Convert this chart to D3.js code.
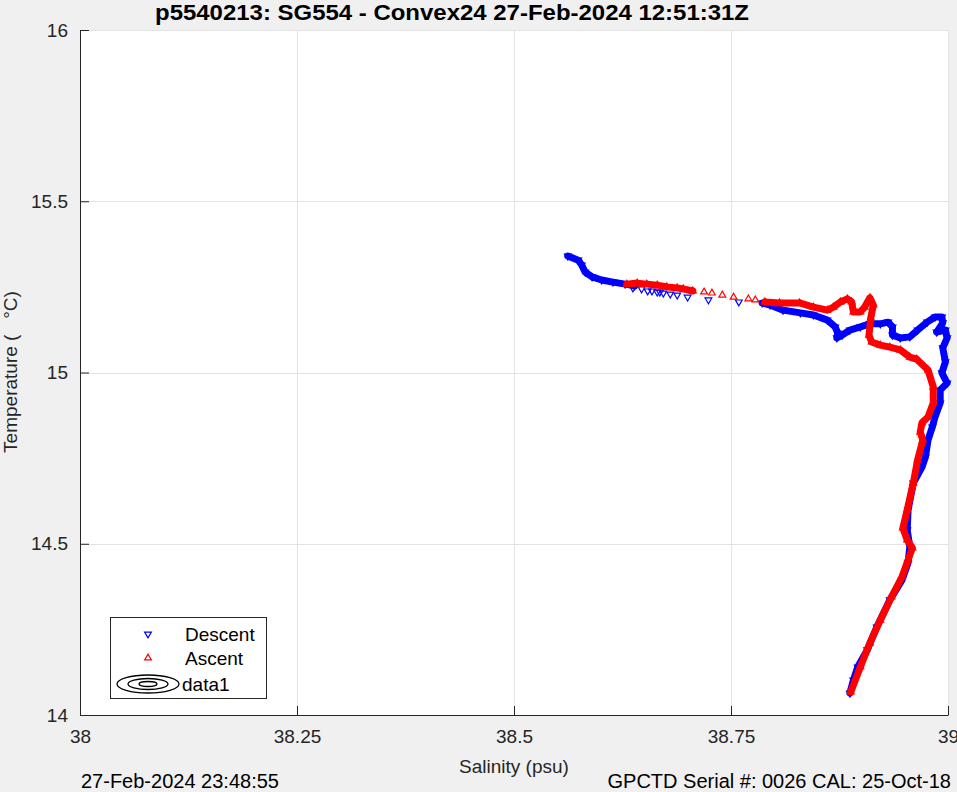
<!DOCTYPE html>
<html><head><meta charset="utf-8">
<script src="https://cdn.jsdelivr.net/npm/d3@7"></script>
<style>
body{margin:0;background:#f0f0f0}
svg{display:block}
text{font-family:"Liberation Sans",Arial,Helvetica,sans-serif}
</style>
</head><body><svg id="c" width="957" height="792"></svg>
<script>
// ---- data: [salinity (psu), temperature (°C)] ----
const descentDenseHead = [[38.562,15.340],[38.574,15.328],[38.578,15.314],[38.582,15.293],[38.590,15.279],[38.601,15.270],[38.614,15.264],[38.628,15.258],[38.639,15.253]];
const descentSparse = [[38.637,15.247],[38.647,15.244],[38.654,15.238],[38.659,15.238],[38.665,15.235],[38.668,15.235],[38.672,15.232],[38.680,15.229],[38.688,15.226],[38.700,15.220],[38.724,15.212],[38.759,15.206]];
const descentDenseTail = [[38.786,15.203],[38.795,15.197],[38.810,15.182],[38.830,15.174],[38.845,15.168],[38.861,15.153],[38.870,15.133],[38.873,15.115],[38.872,15.101],[38.878,15.109],[38.887,15.124],[38.899,15.133],[38.910,15.142],[38.922,15.142],[38.931,15.147],[38.936,15.133],[38.936,15.109],[38.945,15.101],[38.956,15.104],[38.965,15.124],[38.976,15.147],[38.985,15.162],[38.993,15.162],[38.994,15.145],[38.987,15.118],[38.997,15.124],[38.999,15.101],[38.994,15.072],[38.997,15.031],[38.993,14.999],[38.999,14.969],[38.991,14.949],[38.991,14.911],[38.985,14.870],[38.982,14.841],[38.977,14.803],[38.974,14.753],[38.970,14.724],[38.960,14.677],[38.954,14.599],[38.953,14.540],[38.956,14.491],[38.954,14.444],[38.947,14.394],[38.933,14.336],[38.918,14.257],[38.907,14.190],[38.896,14.140],[38.891,14.102],[38.887,14.064]];
const ascentDenseHead = [[38.888,14.067],[38.899,14.140],[38.910,14.210],[38.922,14.277],[38.935,14.345],[38.947,14.403],[38.954,14.453],[38.959,14.488],[38.953,14.511],[38.948,14.546],[38.953,14.599],[38.960,14.677],[38.965,14.745],[38.971,14.803],[38.968,14.826],[38.970,14.853],[38.977,14.870],[38.983,14.911],[38.983,14.958],[38.977,15.007],[38.964,15.039],[38.956,15.045],[38.945,15.066],[38.933,15.074],[38.922,15.080],[38.912,15.089],[38.909,15.109],[38.911,15.159],[38.914,15.197],[38.910,15.218],[38.904,15.191],[38.899,15.177],[38.891,15.177],[38.889,15.206],[38.884,15.215],[38.876,15.206],[38.868,15.191],[38.861,15.182],[38.845,15.191],[38.829,15.203],[38.806,15.203],[38.789,15.206]];
const ascentSparse = [[38.778,15.212],[38.770,15.215],[38.753,15.220],[38.740,15.226],[38.728,15.232],[38.719,15.235]];
const ascentDenseTail = [[38.706,15.238],[38.695,15.244],[38.688,15.247],[38.676,15.250],[38.665,15.255],[38.653,15.258],[38.642,15.261],[38.630,15.258]];

const xTicks = [38, 38.25, 38.5, 38.75, 39];
const xTickLabels = ["38", "38.25", "38.5", "38.75", "39"];
const yTicks = [14, 14.5, 15, 15.5, 16];
const yTickLabels = ["14", "14.5", "15", "15.5", "16"];
const legendLabels = ["Descent", "Ascent", "data1"];
const titleText = "p5540213: SG554 - Convex24 27-Feb-2024 12:51:31Z";
const xLabel = "Salinity (psu)";
const yLabel = "Temperature (   \u00B0C)";
const footLeft = "27-Feb-2024 23:48:55";
const footRight = "GPCTD Serial #: 0026 CAL: 25-Oct-18";

// ---- layout ----
const svg = d3.select("#c");
const L = 80, R = 948, T = 30, B = 715;
const x = d3.scaleLinear().domain([38, 39]).range([L, R]);
const y = d3.scaleLinear().domain([14, 16]).range([B, T]);
const axisColor = "#262626";

svg.append("rect").attr("width", 957).attr("height", 792).attr("fill", "#f0f0f0");
svg.append("rect").attr("x", L).attr("y", T).attr("width", R - L).attr("height", B - T).attr("fill", "#fff");

// grid
const grid = svg.append("g").attr("stroke", "#e3e3e3").attr("stroke-width", 1);
grid.selectAll("line.v").data(xTicks).join("line")
  .attr("x1", d => Math.round(x(d)) + 0.5).attr("x2", d => Math.round(x(d)) + 0.5)
  .attr("y1", T).attr("y2", B);
grid.selectAll("line.h").data(yTicks).join("line")
  .attr("x1", L).attr("x2", R)
  .attr("y1", d => Math.round(y(d)) + 0.5).attr("y2", d => Math.round(y(d)) + 0.5);

// data drawing
const line = d3.line().x(d => x(d[0])).y(d => y(d[1]));
const tri = d3.symbol().type(d3.symbolTriangle).size(20);
const plot = svg.append("g");

function drawDense(pts, color, down) {
  plot.append("path").datum(pts).attr("d", line)
    .attr("fill", "none").attr("stroke", color).attr("stroke-width", 7)
    .attr("stroke-linejoin", "round").attr("stroke-linecap", "round");
  drawMarkers(pts, color, down);
}
function drawMarkers(pts, color, down) {
  plot.append("g").selectAll("path").data(pts).join("path")
    .attr("d", tri)
    .attr("transform", d => `translate(${x(d[0])},${y(d[1])})` + (down ? " rotate(180)" : ""))
    .attr("fill", "none").attr("stroke", color).attr("stroke-width", 1.2);
}
const blue = "#0000ff", red = "#ff0000";
drawDense(descentDenseHead, blue, true);
drawMarkers(descentSparse, blue, true);
drawDense(descentDenseTail, blue, true);
drawDense(ascentDenseHead, red, false);
drawMarkers(ascentSparse, red, false);
drawDense(ascentDenseTail, red, false);

// axes
const fmtX = d => xTickLabels[xTicks.indexOf(d)];
const fmtY = d => yTickLabels[yTicks.indexOf(d)];
const gx = svg.append("g").attr("transform", `translate(0,${B})`)
  .call(d3.axisBottom(x).tickValues(xTicks).tickFormat(fmtX).tickSizeInner(-9).tickSizeOuter(0).tickPadding(15));
const gy = svg.append("g").attr("transform", `translate(${L},0)`)
  .call(d3.axisLeft(y).tickValues(yTicks).tickFormat(fmtY).tickSizeInner(-9).tickSizeOuter(0).tickPadding(12));
[gx, gy].forEach(g => {
  g.selectAll("path.domain").attr("stroke", axisColor);
  g.selectAll(".tick line").attr("stroke", axisColor);
  g.selectAll("text").attr("fill", axisColor).style("font-size", "19px")
    .style("font-family", '"Liberation Sans",Arial,sans-serif');
});

// title and labels
svg.append("text").attr("x", 452).attr("y", 20).attr("text-anchor", "middle")
  .attr("textLength", 594).attr("lengthAdjust", "spacingAndGlyphs")
  .style("font-size", "22px").style("font-weight", "bold").attr("fill", "#000").text(titleText);
svg.append("text").attr("x", 514).attr("y", 773).attr("text-anchor", "middle")
  .style("font-size", "19px").attr("fill", axisColor).text(xLabel);
svg.append("text").attr("transform", "translate(17,372) rotate(-90)").attr("text-anchor", "middle")
  .style("font-size", "19px").style("white-space", "pre").attr("fill", axisColor).text(yLabel);
svg.append("text").attr("x", 81).attr("y", 788)
  .style("font-size", "20px").attr("fill", "#000").text(footLeft);
svg.append("text").attr("x", 951).attr("y", 788).attr("text-anchor", "end")
  .style("font-size", "20px").attr("fill", "#000").text(footRight);

// legend
const lg = svg.append("g");
lg.append("rect").attr("x", 110.5).attr("y", 617.5).attr("width", 156).attr("height", 81)
  .attr("fill", "#fff").attr("stroke", axisColor).attr("stroke-width", 1);
const rowsY = [634, 658, 684];
lg.append("path").attr("d", tri).attr("transform", `translate(148,${rowsY[0]}) rotate(180)`)
  .attr("fill", "none").attr("stroke", blue).attr("stroke-width", 1.2);
lg.append("path").attr("d", tri).attr("transform", `translate(148,${rowsY[1]})`)
  .attr("fill", "none").attr("stroke", red).attr("stroke-width", 1.2);
[[31, 9], [20, 5.5], [9, 2.5]].forEach(([rx, ry]) => {
  lg.append("ellipse").attr("cx", 148).attr("cy", rowsY[2]).attr("rx", rx).attr("ry", ry)
    .attr("fill", "none").attr("stroke", "#000").attr("stroke-width", 1.3);
});
lg.selectAll("text.lab").data(legendLabels).join("text")
  .attr("x", (d, i) => i < 2 ? 185 : 182).attr("y", (d, i) => rowsY[i] + 7)
  .style("font-size", "19px").attr("fill", "#000").text(d => d);
</script></body></html>
